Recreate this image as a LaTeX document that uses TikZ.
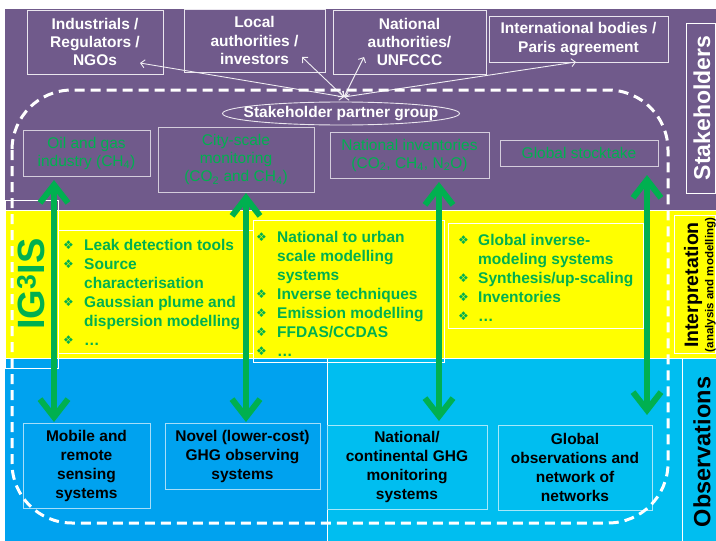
\documentclass[tikz,border=0pt]{standalone}
\usepackage{fontspec}
\setmainfont{Liberation Sans}
\newfontfamily\dejavu{DejaVu Sans}
\usetikzlibrary{arrows.meta,shapes.geometric}
\definecolor{purp}{HTML}{705A8B}
\definecolor{yel}{HTML}{FFFF00}
\definecolor{blueL}{HTML}{00A2EF}
\definecolor{blueR}{HTML}{00BEF0}
\definecolor{grn}{HTML}{00B050}
\newcommand{\bul}{\raisebox{0.5pt}{\dejavu\fontsize{12}{12}\selectfont ❖}}
\newcommand{\fsz}[2]{\fontsize{#1}{#2}\selectfont}
\begin{document}
\begin{tikzpicture}[x=1pt,y=-1pt,
  topbox/.style={draw=white!85!purp, line width=0.9pt, text=white, font=\bfseries\fsz{15.5}{18.3}, align=center, inner sep=0pt},
  midbox/.style={draw=white!70!purp, line width=0.9pt, text=grn, font=\fsz{15.5}{18}, align=center, inner sep=0pt},
  botbox/.style={draw=white!65!blueL, line width=0.9pt, text=black, font=\bfseries\fsz{15.5}{19}, align=center, inner sep=0pt},
  listtxt/.style={text=grn, font=\bfseries\fsz{15.5}{19}, inner sep=0pt, anchor=base west},
  thinw/.style={draw=white, line width=0.8pt},
  wharrow/.style={draw=white!90!purp, line width=0.9pt, {Straight Barb[length=4pt,width=8pt]}-{Straight Barb[length=4pt,width=8pt]}},
  garrow/.style={draw=grn, line width=6pt, {Straight Barb[length=18pt,width=28pt]}-{Straight Barb[length=18pt,width=28pt]}},
  dashrect/.style={draw=white, line width=3pt, dash pattern=on 10pt off 6pt, rounded corners=60pt}
]
\useasboundingbox (0,0) rectangle (716,541);
\fill[white] (0,0) rectangle (716,541);
% bands
\fill[purp] (5,9) rectangle (716,210);
\fill[yel] (5,210) rectangle (716,358);
\fill[blueL] (5,358) rectangle (327,541);
\fill[blueR] (327,358) rectangle (716,541);
\draw[thinw] (5,210) -- (716,210);
\draw[thinw] (5,358.5) -- (716,358.5);
\draw[thinw] (327,358) -- (327,541);
\draw[thinw] (682,358) -- (682,541);
% IG3IS frame and list frames
\draw[thinw] (5,200) rectangle (58,368);
\draw[thinw] (58,230) rectangle (253,353);
\draw[thinw] (253,220) rectangle (444,362);
\draw[thinw] (448,223) rectangle (643,328);

% top stakeholder boxes
\node[topbox, minimum width=136, minimum height=64] (ind) at (95,42) {Industrials /\\Regulators /\\NGOs};
\node[topbox, minimum width=141, minimum height=63] (loc) at (254.5,40.5) {Local\\authorities /\\investors};
\node[topbox, minimum width=153, minimum height=64] (nat) at (409.5,42) {National\\authorities/\\UNFCCC};
\node[topbox, minimum width=179, minimum height=46] (intl) at (578.5,39) {International bodies /\\Paris agreement};

% stakeholder partner group
\node[ellipse, draw=white!85!purp, line width=0.9pt, minimum width=237, minimum height=23, inner sep=0pt, text=white, font=\bfseries\fsz{15.5}{18}] (spg) at (341,113.5) {\makebox[0pt][c]{Stakeholder partner group}};
\coordinate (hub) at (344,97);
\coordinate (tInd) at (140,63);
\coordinate (tLoc) at (302,57);
\coordinate (tNat) at (364,57);
\coordinate (tInt) at (576,62);
\draw[wharrow] (hub) -- (tInd);
\draw[wharrow] (hub) -- (tLoc);
\draw[wharrow] (hub) -- (tNat);
\draw[wharrow] (hub) -- (tInt);

% middle boxes
\node[midbox, minimum width=127, minimum height=46] (oil) at (86.5,153) {Oil and gas\\industry (CH\textsubscript{4})};
\node[midbox, minimum width=156, minimum height=65] (city) at (236,159.5) {City-scale\\monitoring\\(CO\textsubscript{2} and CH\textsubscript{4})};
\node[midbox, minimum width=159, minimum height=46] (ninv) at (409.5,155) {National inventories\\(CO\textsubscript{2}, CH\textsubscript{4}, N\textsubscript{2}O)};
\node[midbox, minimum width=158, minimum height=26] (gst) at (579,153) {Global stocktake};

% IG3IS label
\node[rotate=90, text=grn, font=\bfseries\fsz{38}{40}, inner sep=0pt] (ig) at (31,284) {IG\textsuperscript{3}IS};

% lists
\node[listtxt] (l1) at (63,250) {\begin{tabular}[t]{@{}p{21pt}@{}l@{}}
\bul & Leak detection tools\\
\bul & Source\\
 & characterisation\\
\bul & Gaussian plume and\\
 & dispersion modelling\\
\bul & …
\end{tabular}};
\node[listtxt] (l2) at (256,242) {\begin{tabular}[t]{@{}p{21pt}@{}l@{}}
\bul & National to urban\\
 & scale modelling\\
 & systems\\
\bul & Inverse techniques\\
\bul & Emission modelling\\
\bul & FFDAS/CCDAS\\
\bul & …
\end{tabular}};
\node[listtxt] (l3) at (458,245) {\begin{tabular}[t]{@{}p{20pt}@{}l@{}}
\bul & Global inverse-\\
 & modeling systems\\
\bul & Synthesis/up-scaling\\
\bul & Inventories\\
\bul & …
\end{tabular}};

% bottom boxes
\node[botbox, minimum width=127, minimum height=85] (mob) at (86.5,465.5) {Mobile and\\remote\\sensing\\systems};
\node[botbox, minimum width=155, minimum height=66] (nov) at (242.5,456) {Novel (lower-cost)\\GHG observing\\systems};
\node[botbox, draw=white!65!blueR, minimum width=160, minimum height=84] (natc) at (407,467) {National/\\continental GHG\\monitoring\\systems};
\node[botbox, draw=white!65!blueR, minimum width=154, minimum height=85] (gob) at (575,467.5) {Global\\observations and\\network of\\networks};

% dashed boundary
\draw[dashrect] (12,90) rectangle (668,523);

% green arrows
\coordinate (a1t) at (54,180); \coordinate (a1b) at (54,422);
\coordinate (a2t) at (246,193); \coordinate (a2b) at (246,422);
\coordinate (a3t) at (439,182); \coordinate (a3b) at (439,421);
\coordinate (a4t) at (647,175); \coordinate (a4b) at (647,415);
\draw[garrow] (a1t) -- (a1b);
\draw[garrow] (a2t) -- (a2b);
\draw[garrow] (a3t) -- (a3b);
\draw[garrow] (a4t) -- (a4b);

% right labels
\draw[thinw] (686,23) rectangle (715.5,193);
\node[rotate=90, text=white, font=\bfseries\fsz{23}{25}, inner sep=0pt] (stk) at (702,108) {Stakeholders};
\draw[thinw] (674,215) rectangle (715.5,353);
\node[rotate=90, text=black, font=\bfseries\fsz{19.5}{21}, inner sep=0pt] (interp) at (693,285) {Interpretation};
\node[rotate=90, text=black, font=\bfseries\fsz{11.5}{13}, inner sep=0pt] (anm) at (710.5,285) {(analysis and modelling)};
\node[rotate=90, text=black, font=\bfseries\fsz{23.5}{25}, inner sep=0pt] (obs) at (702,452) {Observations};
\end{tikzpicture}
\end{document}
